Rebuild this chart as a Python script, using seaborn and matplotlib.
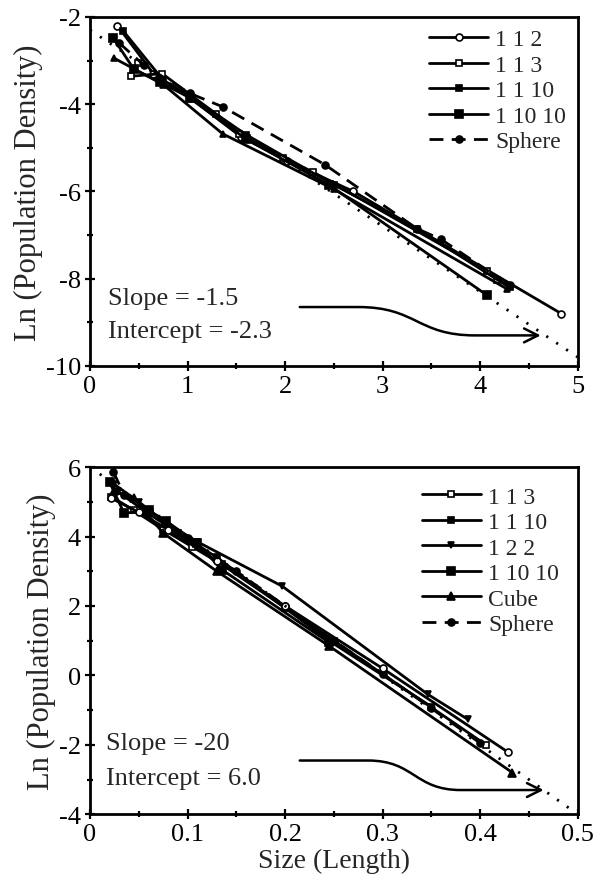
import numpy as np
import pandas as pd
import matplotlib
matplotlib.use("Agg")
import matplotlib.pyplot as plt
import seaborn as sns
from matplotlib.path import Path
from matplotlib.patches import FancyArrowPatch
from matplotlib.ticker import MultipleLocator, FuncFormatter

# ---- top panel: size in length units ----
top_112_x = [0.28, 0.65, 1.02, 1.55, 2.02, 2.70, 4.83]
top_112_y = [-2.20, -3.30, -3.85, -4.75, -5.30, -6.00, -8.80]
top_113_x = [0.49, 0.42, 0.74, 1.29, 1.53, 1.98, 2.29, 4.07, 4.17]
top_113_y = [-3.05, -3.36, -3.30, -4.22, -4.68, -5.23, -5.56, -7.82, -8.03]
top_1110_x = [0.34, 0.75, 1.05, 1.60, 2.50, 3.35, 4.30]
top_1110_y = [-2.32, -3.45, -3.85, -4.70, -5.85, -6.85, -8.20]
top_11010_x = [0.24, 0.45, 0.72, 1.02, 1.60, 2.45, 4.07]
top_11010_y = [-2.49, -3.20, -3.50, -3.85, -4.80, -5.85, -8.38]
top_sphere_x = [0.30, 0.55, 1.02, 1.36, 2.41, 3.35, 3.60, 4.30]
top_sphere_y = [-2.60, -3.10, -3.75, -4.06, -5.39, -6.85, -7.10, -8.15]
top_cube_x = [0.25, 0.75, 1.36, 2.50, 4.27]
top_cube_y = [-2.95, -3.55, -4.68, -5.95, -8.23]
top_slope, top_intercept = -1.5, -2.3

# ---- bottom panel: size in length ----
bot_113_x = [0.022, 0.045, 0.075, 0.105, 0.135, 0.20, 0.25, 0.406]
bot_113_y = [5.15, 4.75, 4.20, 3.70, 3.20, 1.95, 1.00, -2.00]
bot_1110_x = [0.028, 0.058, 0.09, 0.13, 0.245, 0.35]
bot_1110_y = [5.30, 4.70, 4.10, 3.40, 1.00, -0.90]
bot_122_x = [0.025, 0.05, 0.075, 0.11, 0.197, 0.346, 0.387]
bot_122_y = [5.50, 5.00, 4.45, 3.85, 2.57, -0.54, -1.26]
bot_11010_x = [0.020, 0.035, 0.06, 0.078, 0.11, 0.135, 0.245]
bot_11010_y = [5.57, 4.67, 4.75, 4.45, 3.80, 3.05, 0.95]
bot_cube_x = [0.025, 0.045, 0.075, 0.13, 0.245, 0.433]
bot_cube_y = [5.30, 5.10, 4.10, 3.00, 0.85, -2.80]
bot_sphere_x = [0.024, 0.035, 0.06, 0.10, 0.15, 0.20, 0.25, 0.30, 0.35, 0.40]
bot_sphere_y = [5.86, 5.20, 4.75, 3.95, 3.00, 2.00, 1.00, 0.05, -0.95, -1.95]
bot_112_x = [0.022, 0.05, 0.08, 0.13, 0.20, 0.30, 0.428]
bot_112_y = [5.10, 4.70, 4.20, 3.30, 2.00, 0.20, -2.20]
bot_slope, bot_intercept = -20, 6.0

sns.set_style("ticks")
plt.rcParams["font.family"] = ["Liberation Serif", "DejaVu Serif"]
plt.rcParams["axes.unicode_minus"] = False

fig = plt.figure(figsize=(6, 8.95), dpi=100)
ax1 = fig.add_axes([0.15, 0.590, 0.813, 0.390])
ax2 = fig.add_axes([0.15, 0.089, 0.813, 0.388])

# label, x, y, marker, size, filled, dashed
top_series = [
    ("1 1 2", top_112_x, top_112_y, "o", 5, False, False),
    ("1 1 3", top_113_x, top_113_y, "s", 5, False, False),
    ("1 1 10", top_1110_x, top_1110_y, "s", 4, True, False),
    ("1 10 10", top_11010_x, top_11010_y, "s", 6, True, False),
    ("Sphere", top_sphere_x, top_sphere_y, "o", 5, True, True),
    ("_cube", top_cube_x, top_cube_y, "^", 5, True, False),
]
bot_series = [
    ("1 1 3", bot_113_x, bot_113_y, "s", 5, False, False),
    ("1 1 10", bot_1110_x, bot_1110_y, "s", 4, True, False),
    ("1 2 2", bot_122_x, bot_122_y, "v", 5, True, False),
    ("1 10 10", bot_11010_x, bot_11010_y, "s", 6, True, False),
    ("Cube", bot_cube_x, bot_cube_y, "^", 6, True, False),
    ("Sphere", bot_sphere_x, bot_sphere_y, "o", 5, True, True),
    ("_112", bot_112_x, bot_112_y, "o", 5, False, False),
]


def draw_panel(ax, series, slope, intercept, xmax):
    for label, xs, ys, mk, ms, filled, dashed in series:
        df = pd.DataFrame({"x": xs, "y": ys})
        sns.lineplot(data=df, x="x", y="y", ax=ax, sort=False, color="black",
                     lw=2.0, marker=mk, markersize=ms,
                     markerfacecolor="black" if filled else "white",
                     markeredgecolor="black", markeredgewidth=1.2,
                     linestyle=(0, (5, 3)) if dashed else "-", label=label)
    fit = pd.DataFrame({"x": [0, xmax]})
    fit["y"] = intercept + slope * fit["x"]
    sns.lineplot(data=fit, x="x", y="y", ax=ax, color="black", lw=2.0,
                 linestyle=(0, (0.8, 3.5)), label="_fit")


def curvy_arrow(ax, x0, x1, x2, x3, y0, y1):
    xm = x1 + (x2 - x1) * 0.5
    verts = [(x0, y0), (x1, y0), (xm, y0), (xm, y1), (x2, y1), (x3, y1)]
    codes = [Path.MOVETO, Path.LINETO, Path.CURVE4, Path.CURVE4,
             Path.CURVE4, Path.LINETO]
    arr = FancyArrowPatch(path=Path(verts, codes),
                          arrowstyle="->,head_length=10,head_width=5",
                          color="black", lw=1.8, mutation_scale=1)
    ax.add_patch(arr)


draw_panel(ax1, top_series, top_slope, top_intercept, 5)
draw_panel(ax2, bot_series, bot_slope, bot_intercept, 0.5)

ax1.set_xlim(0, 5)
ax1.set_ylim(-10, -2)
ax1.xaxis.set_major_locator(MultipleLocator(1))
ax1.xaxis.set_minor_locator(MultipleLocator(0.5))
ax1.yaxis.set_major_locator(MultipleLocator(2))
ax1.yaxis.set_minor_locator(MultipleLocator(1))
ax1.text(0.18, -8.45, "Slope = -1.5", fontsize=19, va="center")
ax1.text(0.18, -9.2, "Intercept = -2.3", fontsize=19, va="center")
curvy_arrow(ax1, 2.15, 2.75, 3.95, 4.62, -8.65, -9.3)

ax2.set_xlim(0, 0.5)
ax2.set_ylim(-4, 6)
ax2.xaxis.set_major_locator(MultipleLocator(0.1))
ax2.xaxis.set_minor_locator(MultipleLocator(0.05))
ax2.yaxis.set_major_locator(MultipleLocator(2))
ax2.yaxis.set_minor_locator(MultipleLocator(1))
ax2.xaxis.set_major_formatter(FuncFormatter(
    lambda v, p: "0" if abs(v) < 1e-9 else f"{v:.1f}"))
ax2.text(0.016, -1.95, "Slope = -20", fontsize=19, va="center")
ax2.text(0.016, -2.95, "Intercept = 6.0", fontsize=19, va="center")
curvy_arrow(ax2, 0.215, 0.285, 0.38, 0.465, -2.45, -3.3)

for ax, pad in ((ax1, 0.1), (ax2, 0.4)):
    ax.set_xlabel("")
    ax.set_ylabel("Ln (Population Density)", fontsize=22, labelpad=2)
    for sp in ax.spines.values():
        sp.set_linewidth(2.0)
        sp.set_color("black")
    ax.tick_params(which="both", direction="inout", width=1.6, length=7,
                   labelsize=19, colors="black", pad=3)
    ax.tick_params(which="minor", length=5)
    ax.legend(loc="upper right", frameon=False, fontsize=17,
              handlelength=2.5, handletextpad=0.3, labelspacing=0.17,
              borderaxespad=pad)

ax2.set_xlabel("Size (Length)", fontsize=20, labelpad=2)

fig.savefig("out.png", dpi=100, facecolor="white")
